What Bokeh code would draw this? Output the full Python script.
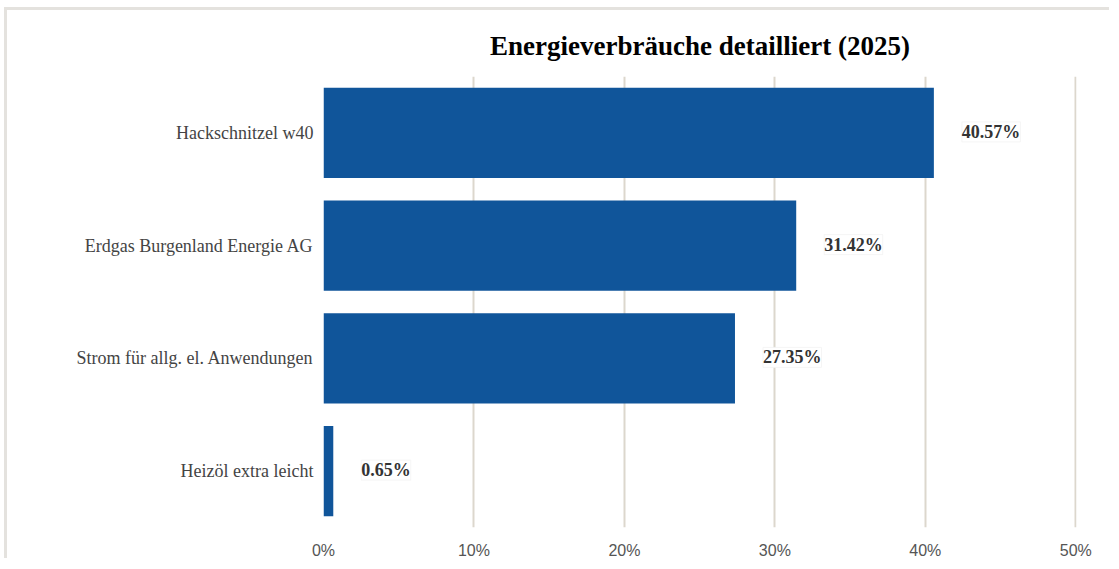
from bokeh.plotting import figure
from bokeh.models import ColumnDataSource, FactorRange, Range1d, FixedTicker, PrintfTickFormatter, LabelSet, Title
from bokeh.embed import file_html
from bokeh.resources import INLINE

title_text = "Energieverbräuche detailliert (2025)"
categories = ["Hackschnitzel w40", "Erdgas Burgenland Energie AG", "Strom für allg. el. Anwendungen", "Heizöl extra leicht"]
values = [40.57, 31.42, 27.35, 0.65]
value_labels = ["40.57%", "31.42%", "27.35%", "0.65%"]
x_ticks = [0, 10, 20, 30, 40, 50]

src = ColumnDataSource(data=dict(cat=categories, val=values, lab=value_labels))

p = figure(width=316 + 753 + 36, height=66 + 452 + 33, output_backend="svg", toolbar_location=None,
           y_range=FactorRange(*categories[::-1]), x_range=Range1d(0, 50.05),
           min_border_left=316, min_border_right=36, min_border_top=66, min_border_bottom=33)
p.styles = {"border-top": "3px solid #e4e2de", "border-left": "3px solid #e4e2de",
            "margin-left": "4px", "margin-top": "7px"}

p.hbar(y="cat", right="val", left=0, height=0.8, source=src, fill_color="#10559a", line_color=None)

labels = LabelSet(x="val", y="cat", text="lab", source=src, x_offset=28, y_offset=1, text_baseline="middle",
                  text_align="left", text_font="Liberation Serif", text_font_style="bold",
                  text_font_size="18px", text_color="#333333",
                  background_fill_color="white", border_line_color="#f2f2f2", border_line_alpha=0.8)
p.add_layout(labels)

p.title = Title(text=title_text, align="center", text_font="Liberation Serif",
                text_font_style="bold", text_font_size="27px", text_color="#000000", standoff=31)

p.outline_line_color = None
p.ygrid.grid_line_color = None
p.xgrid.grid_line_color = "#dcd7cd"
p.xgrid.grid_line_width = 2
p.xaxis.ticker = FixedTicker(ticks=x_ticks)
p.xaxis.formatter = PrintfTickFormatter(format="%d%%")
p.xaxis.axis_line_color = None
p.xaxis.major_tick_line_color = None
p.xaxis.minor_tick_line_color = None
p.xaxis.major_tick_out = 0
p.xaxis.major_tick_in = 0
p.xaxis.major_label_standoff = 14
p.xaxis.major_label_text_font = "Liberation Sans"
p.xaxis.major_label_text_font_size = "16px"
p.xaxis.major_label_text_color = "#555555"

p.yaxis.axis_line_color = None
p.yaxis.major_tick_line_color = None
p.yaxis.minor_tick_line_color = None
p.yaxis.major_tick_out = 0
p.yaxis.major_tick_in = 0
p.yaxis.major_label_standoff = 10
p.yaxis.major_label_text_font = "Liberation Serif"
p.yaxis.major_label_text_font_size = "18px"
p.yaxis.major_label_text_color = "#444444"

open("out.html", "w").write(file_html(p, INLINE))
